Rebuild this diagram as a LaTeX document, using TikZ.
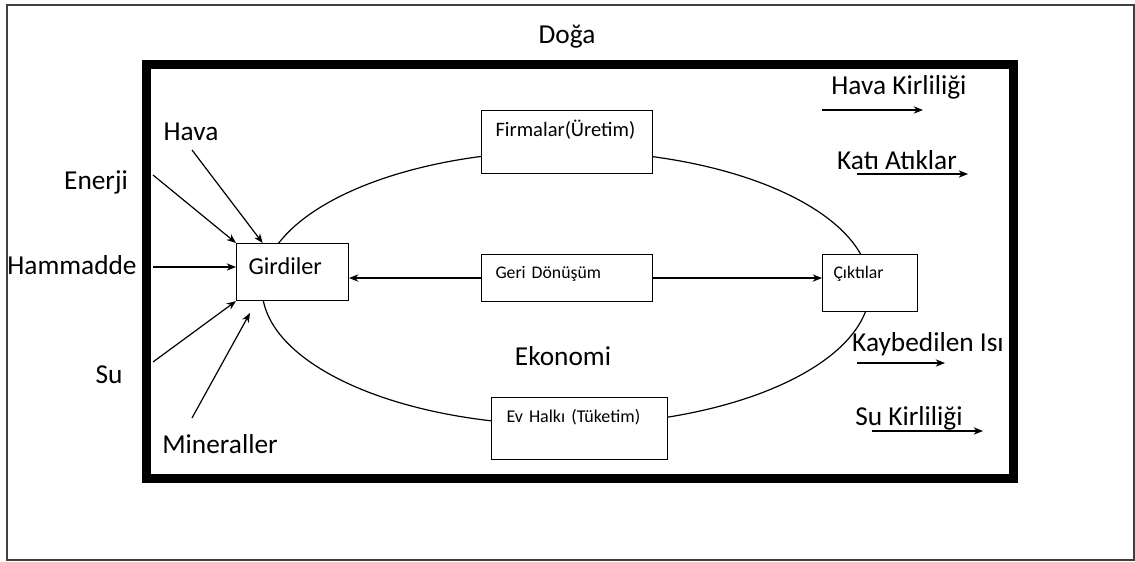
\documentclass[tikz,border=0pt]{standalone}
\usepackage{fontspec}
\setmainfont{Carlito}
\usetikzlibrary{arrows.meta}

\begin{document}
\begin{tikzpicture}[x=0.75pt,y=-0.75pt,>={Stealth[length=7pt,width=5.5pt]},
    box/.style={draw,fill=white,line width=0.8pt,anchor=north west,inner ysep=0pt,align=left},
    lbl/.style={font=\fontsize{20.5}{24}\selectfont,anchor=base},
    arr/.style={->,line width=0.9pt}]
        \useasboundingbox (0,0) rectangle (1135,561);
        \draw[black!75,line width=0.9pt](7,5) rectangle (1134,560);
        \draw[line width=6.75pt](146,64.5) rectangle (1013.5,478);
        \draw[line width=0.9pt](566,288) ellipse [x radius=304,y radius=137];
        % kutular
        \node[box,inner xsep=9pt,text width=66pt,text height=23.25pt,text depth=19.5pt,font=\fontsize{18.2}{20}\selectfont](girdiler) at (236,243){Girdiler};
        \node[box,inner xsep=10.5pt,text width=107.25pt,text height=19.5pt,text depth=27.75pt,font=\fontsize{15.4}{18}\selectfont](firmalar) at (481,110){Firmalar(Üretim)};
        \node[box,inner xsep=10.5pt,text width=107.25pt,text height=18pt,text depth=17.25pt,font=\fontsize{13.3}{16}\selectfont](geri) at (481,254){Geri Dönüşüm};
        \node[box,inner xsep=8.25pt,text width=54.75pt,text height=18pt,text depth=24.75pt,font=\fontsize{13.3}{16}\selectfont](cikti) at (822,254){Çıktılar};
        \node[box,inner xsep=11.25pt,text width=109.5pt,text height=18.75pt,text depth=27.75pt,font=\fontsize{13.5}{16}\selectfont](evhalki) at (491,397){Ev Halkı (Tüketim)};
        \draw[arr](geri.west)--(geri.west -| girdiler.east);
        \draw[arr](geri.east)--(geri.east -| cikti.west);
        % yazilar
        \node[lbl](doga) at (567,43){Doğa};
        \node[lbl](ekonomi) at (563,365){Ekonomi};
        \node[lbl](hava) at (191,140){Hava};
        \node[lbl](enerji) at (96,189){Enerji};
        \node[lbl](hammadde) at (72,274){Hammadde};
        \node[lbl](su) at (109,383){Su};
        \node[lbl](mineral) at (220,453){Mineraller};
        \node[lbl](havakir) at (899,94){Hava Kirliliği};
        \node[lbl](kati) at (897,169){Katı Atıklar};
        \node[lbl](isi) at (928,351){Kaybedilen Isı};
        \node[lbl](sukir) at (909,425){Su Kirliliği};
        % girdiler oklari
        \coordinate (hava-u) at (192,150);
        \coordinate (enerji-u) at (153,175);
        \coordinate (hammadde-u) at (153,267);
        \coordinate (su-u) at (153,362);
        \coordinate (mineral-u) at (192,418);
        \coordinate (mineral-c) at (250,313);
        \draw[arr](hava-u)--([xshift=20pt]girdiler.north west);
        \draw[arr](enerji-u)--(girdiler.north west);
        \draw[arr](hammadde-u)--(hammadde-u -| girdiler.west);
        \draw[arr](su-u)--(girdiler.south west);
        \draw[arr](mineral-u)--(mineral-c);
        % ciktilar oklari
        \coordinate (havakir-a) at (822,110);
        \coordinate (havakir-b) at (923,110);
        \coordinate (kati-a) at (857,174);
        \coordinate (kati-b) at (968,174);
        \coordinate (isi-a) at (857,363);
        \coordinate (isi-b) at (945,363);
        \coordinate (sukir-a) at (872,431);
        \coordinate (sukir-b) at (983,431);
        \draw[arr](havakir-a)--(havakir-b);
        \draw[arr](kati-a)--(kati-b);
        \draw[arr](isi-a)--(isi-b);
        \draw[arr](sukir-a)--(sukir-b);
\end{tikzpicture}
\end{document}
